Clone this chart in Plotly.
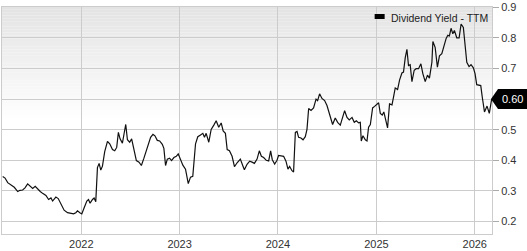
import plotly.graph_objects as go
import pandas as pd

# ---- data ----
series_name = "Dividend Yield - TTM"
# time as decimal years
years = [
    2021.200, 2021.224, 2021.251, 2021.285, 2021.318, 2021.353, 2021.376, 2021.403, 2021.427, 2021.454,
    2021.477, 2021.505, 2021.531, 2021.556, 2021.582, 2021.606, 2021.640, 2021.667, 2021.691, 2021.708,
    2021.724, 2021.741, 2021.765, 2021.792, 2021.825, 2021.860, 2021.893, 2021.921, 2021.944, 2021.961,
    2021.985, 2022.005, 2022.028, 2022.056, 2022.073, 2022.089, 2022.114, 2022.130, 2022.147, 2022.164,
    2022.181, 2022.198, 2022.215, 2022.238, 2022.266, 2022.289, 2022.317, 2022.340, 2022.360, 2022.377,
    2022.394, 2022.418, 2022.434, 2022.452, 2022.469, 2022.492, 2022.512, 2022.536, 2022.560, 2022.587,
    2022.611, 2022.637, 2022.662, 2022.682, 2022.705, 2022.729, 2022.749, 2022.773, 2022.797, 2022.824,
    2022.840, 2022.857, 2022.875, 2022.898, 2022.918, 2022.942, 2022.966, 2022.986, 2023.010, 2023.033,
    2023.060, 2023.088, 2023.111, 2023.134, 2023.162, 2023.185, 2023.213, 2023.236, 2023.253, 2023.270,
    2023.297, 2023.321, 2023.348, 2023.372, 2023.398, 2023.423, 2023.443, 2023.466, 2023.484, 2023.507,
    2023.534, 2023.558, 2023.585, 2023.618, 2023.642, 2023.659, 2023.686, 2023.713, 2023.737, 2023.761,
    2023.788, 2023.811, 2023.832, 2023.855, 2023.882, 2023.906, 2023.926, 2023.943, 2023.967, 2023.991,
    2024.007, 2024.031, 2024.058, 2024.082, 2024.102, 2024.119, 2024.143, 2024.159, 2024.177, 2024.194,
    2024.210, 2024.234, 2024.255, 2024.278, 2024.295, 2024.312, 2024.336, 2024.362, 2024.387, 2024.403,
    2024.423, 2024.447, 2024.474, 2024.498, 2024.525, 2024.555, 2024.582, 2024.606, 2024.633, 2024.657,
    2024.677, 2024.701, 2024.724, 2024.752, 2024.775, 2024.796, 2024.819, 2024.836, 2024.846, 2024.863,
    2024.887, 2024.904, 2024.920, 2024.938, 2024.961, 2024.981, 2025.006, 2025.022, 2025.039, 2025.059,
    2025.075, 2025.097, 2025.113, 2025.133, 2025.158, 2025.174, 2025.191, 2025.215, 2025.235, 2025.259,
    2025.275, 2025.293, 2025.310, 2025.326, 2025.343, 2025.361, 2025.384, 2025.404, 2025.428, 2025.452,
    2025.472, 2025.496, 2025.519, 2025.539, 2025.564, 2025.574, 2025.597, 2025.620, 2025.641, 2025.665,
    2025.688, 2025.709, 2025.726, 2025.742, 2025.759, 2025.777, 2025.793, 2025.817, 2025.841, 2025.861,
    2025.884, 2025.902, 2025.919, 2025.942, 2025.962, 2025.986, 2026.003, 2026.020, 2026.061, 2026.077,
    2026.099, 2026.125, 2026.148, 2026.172,
]
yield_ttm = [
    0.347, 0.342, 0.327, 0.319, 0.312, 0.298, 0.302, 0.303, 0.310, 0.323,
    0.317, 0.308, 0.315, 0.306, 0.298, 0.292, 0.285, 0.272, 0.277, 0.267,
    0.272, 0.280, 0.275, 0.256, 0.237, 0.229, 0.227, 0.225, 0.229, 0.235,
    0.229, 0.225, 0.244, 0.267, 0.272, 0.260, 0.272, 0.277, 0.265, 0.376,
    0.390, 0.368, 0.381, 0.428, 0.462, 0.454, 0.435, 0.431, 0.442, 0.491,
    0.470, 0.456, 0.485, 0.517, 0.467, 0.459, 0.470, 0.439, 0.399, 0.394,
    0.383, 0.407, 0.433, 0.446, 0.475, 0.485, 0.480, 0.465, 0.463, 0.452,
    0.439, 0.383, 0.404, 0.407, 0.399, 0.409, 0.413, 0.421, 0.404, 0.384,
    0.371, 0.324, 0.345, 0.348, 0.454, 0.477, 0.483, 0.488, 0.475, 0.488,
    0.459, 0.501, 0.515, 0.529, 0.508, 0.522, 0.496, 0.488, 0.435, 0.431,
    0.413, 0.379, 0.392, 0.404, 0.383, 0.369, 0.387, 0.397, 0.394, 0.390,
    0.404, 0.431, 0.413, 0.409, 0.400, 0.398, 0.431, 0.402, 0.388, 0.400,
    0.416, 0.415, 0.413, 0.397, 0.371, 0.380, 0.366, 0.362, 0.491, 0.494,
    0.475, 0.473, 0.467, 0.477, 0.501, 0.569, 0.563, 0.571, 0.600, 0.595,
    0.617, 0.602, 0.595, 0.579, 0.548, 0.517, 0.538, 0.524, 0.515, 0.540,
    0.562, 0.540, 0.532, 0.540, 0.524, 0.529, 0.522, 0.524, 0.463, 0.480,
    0.467, 0.463, 0.508, 0.517, 0.571, 0.576, 0.585, 0.588, 0.553, 0.548,
    0.558, 0.527, 0.506, 0.584, 0.581, 0.607, 0.636, 0.631, 0.662, 0.685,
    0.688, 0.735, 0.762, 0.709, 0.712, 0.657, 0.694, 0.699, 0.699, 0.715,
    0.683, 0.657, 0.678, 0.668, 0.720, 0.788, 0.769, 0.704, 0.741, 0.748,
    0.777, 0.798, 0.808, 0.806, 0.831, 0.813, 0.824, 0.800, 0.800, 0.845,
    0.834, 0.767, 0.720, 0.706, 0.712, 0.702, 0.683, 0.647, 0.644, 0.605,
    0.558, 0.577, 0.553, 0.600,
]
y_ticks = [0.2, 0.3, 0.4, 0.5, 0.6, 0.7, 0.8, 0.9]
x_range_years = [2021.193, 2026.1755]
y_range = [0.159375, 0.9005]


def year_to_date(y):
    yr = int(y)
    start = pd.Timestamp(yr, 1, 1)
    end = pd.Timestamp(yr + 1, 1, 1)
    return start + (y - yr) * (end - start)


dates = [year_to_date(y) for y in years]
x_range = [year_to_date(y) for y in x_range_years]
last_val = yield_ttm[-1]
# the tick label hidden behind the last-value marker is left blank
y_ticktext = ["" if abs(v - last_val) < 0.05 else f"{v:.1f}" for v in y_ticks]

FONT = "Liberation Sans, Arial, Helvetica, sans-serif"
GRID = "#cccccc"

fig = go.Figure()
fig.add_trace(go.Scatter(
    x=dates, y=yield_ttm, mode="lines", name=series_name,
    line=dict(color="#111111", width=1.2), showlegend=False,
))

shapes = []
# background gradient (grey at top fading to white)
n = 40
g0, g1 = 0.5, 1.0
for i in range(n):
    y0 = g0 + (g1 - g0) * i / n
    y1 = g0 + (g1 - g0) * (i + 1) / n
    t = (i + 0.5) / n
    c = int(round(255 - (255 - 227) * t))
    shapes.append(dict(type="rect", xref="paper", yref="paper", x0=0, x1=1, y0=y0, y1=y1,
                       fillcolor=f"rgb({c},{c},{c})", line=dict(width=0), layer="below"))

# legend swatch
shapes.append(dict(type="rect", xref="paper", yref="paper", xsizemode="pixel", ysizemode="pixel",
                   xanchor=0.7605, yanchor=1, x0=0, x1=10, y0=-7, y1=-12,
                   fillcolor="#000000", line=dict(width=0)))

# last-value marker
shapes.append(dict(type="path", xref="paper", yref="y", xsizemode="pixel", ysizemode="pixel",
                   xanchor=1, yanchor=last_val,
                   path="M -1,0 L 6,-10 L 35,-10 L 35,10 L 6,10 Z",
                   fillcolor="#000000", line=dict(width=0), layer="above"))

annotations = [
    dict(text=series_name, xref="paper", yref="paper", x=0.7605, y=1, xanchor="left", yanchor="top",
         xshift=14, yshift=-3, showarrow=False, font=dict(family=FONT, size=10.5, color="#222222")),
    dict(text=f"{last_val:.2f}", xref="paper", yref="y", x=1, y=last_val, xanchor="center",
         yanchor="middle", xshift=20, showarrow=False, font=dict(family=FONT, size=11, color="#ffffff")),
]

fig.update_layout(
    width=527, height=251,
    margin=dict(l=1, r=35, t=4, b=10),
    paper_bgcolor="#ffffff", plot_bgcolor="#ffffff",
    font=dict(family=FONT, size=11, color="#333333"),
    shapes=shapes, annotations=annotations,
    showlegend=False,
)
fig.update_xaxes(
    type="date", range=x_range, tick0="2022-01-01", dtick="M12", tickformat="%Y",
    showgrid=True, gridcolor=GRID, gridwidth=1,
    showline=True, linecolor=GRID, linewidth=1, mirror=True,
    ticks="", tickfont=dict(family=FONT, size=11, color="#333333"), zeroline=False,
    ticklabeloverflow="allow",
)
fig.update_yaxes(
    side="right", range=y_range, tickvals=y_ticks, ticktext=y_ticktext,
    showgrid=True, gridcolor=GRID, gridwidth=1,
    showline=True, linecolor=GRID, linewidth=1, mirror=True,
    ticks="outside", ticklen=6, tickcolor="#aaaaaa",
    tickfont=dict(family=FONT, size=11, color="#333333"), zeroline=False,
    ticklabeloverflow="allow",
)

fig.write_html("out.html")
